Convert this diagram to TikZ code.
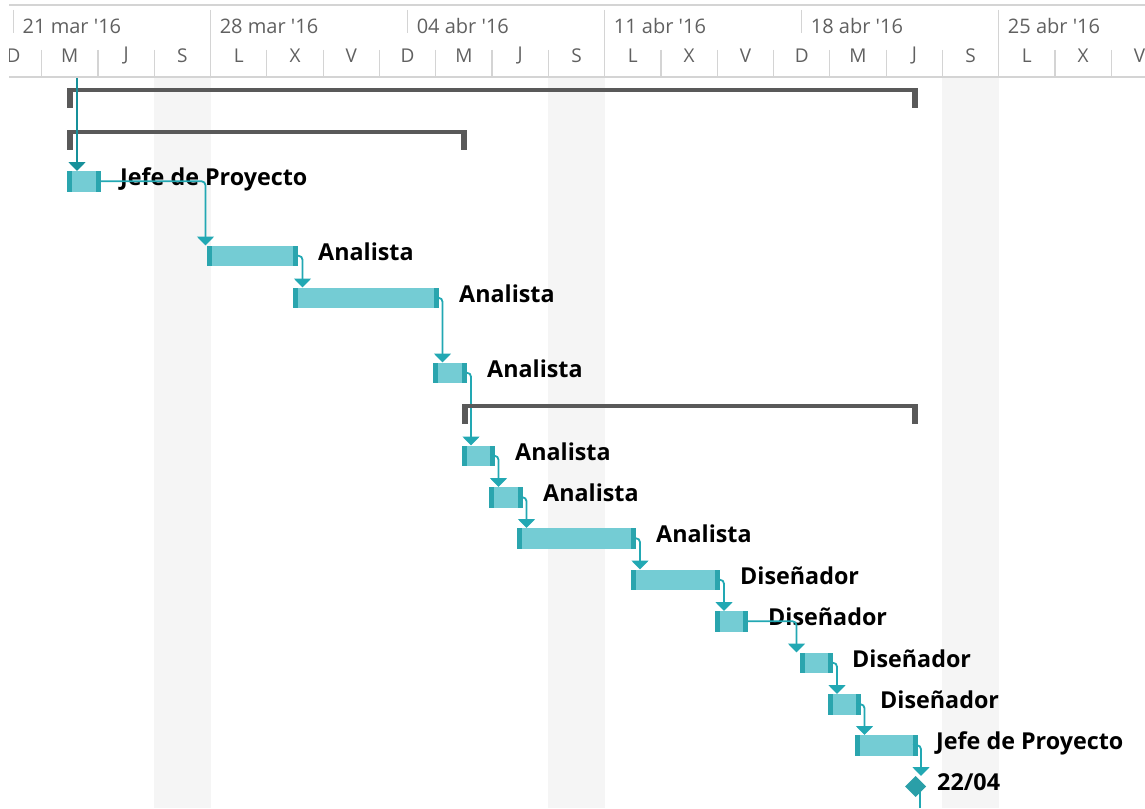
\documentclass[tikz,border=0pt]{standalone}
\usepackage{fontspec}
\setmainfont{Open Sans}
\usetikzlibrary{arrows.meta,shapes.geometric,calc}

\definecolor{barfill}{HTML}{74CCD4}
\definecolor{baredge}{HTML}{2AA5AE}
\definecolor{linkcol}{HTML}{22A8B3}
\definecolor{linkdark}{HTML}{17909A}
\definecolor{milecol}{HTML}{2A9FA8}
\definecolor{summcol}{HTML}{595959}
\definecolor{weekend}{HTML}{F5F5F5}
\definecolor{hdrtext}{HTML}{606060}
\definecolor{hdrline}{HTML}{D4D4D4}

\tikzset{
  taskbar/.style={rectangle, fill=barfill, inner sep=0pt, outer sep=0pt,
    minimum height=20.5pt, anchor=north west,
    path picture={
      \fill[baredge] (path picture bounding box.north west) rectangle
        ([xshift=5pt]path picture bounding box.south west);
      \fill[baredge] ([xshift=-5pt]path picture bounding box.north east) rectangle
        (path picture bounding box.south east);}},
  milestone/.style={diamond, fill=milecol, inner sep=0pt, outer sep=0pt,
    minimum width=21pt, minimum height=21pt},
  tasklabel/.style={anchor=base west, inner sep=0pt, text=black,
    font=\fontsize{23.3}{25}\selectfont\bfseries},
  weeklabel/.style={anchor=west, inner sep=0pt, text=hdrtext,
    font=\fontsize{20}{22}\selectfont},
  daylabel/.style={anchor=center, inner sep=0pt, text=hdrtext,
    font=\fontsize{19}{21}\selectfont},
  link/.style={draw=linkcol, line width=1.8pt, rounded corners=4pt,
    -{Triangle[width=17pt,length=9pt]}},
  linkin/.style={draw=linkdark, line width=1.8pt,
    -{Triangle[width=17pt,length=9pt]}},
  summary/.style={fill=summcol},
  gridline/.style={draw=hdrline, line width=1.2pt},
}

\begin{document}
\begin{tikzpicture}[x=1pt, y=-1pt]
  \useasboundingbox (0,0) rectangle (1145,808);

  % non-working days (Saturday + Sunday), one day = 28.15px, Mon 21 Mar at x=13.5
  \foreach \d in {5,19,33} {
    \fill[weekend] ({13.5+28.15*\d},78) rectangle ({13.5+28.15*(\d+2)},808);
  }

  % timescale header
  \begin{scope}
    \clip (9,0) rectangle (1145,80);
    \draw[gridline] (9,5) -- (1145,5);
    \draw[gridline] (9,77) -- (1145,77);
    % week separators and week labels
    \foreach \w/\txt/\full in {0/21 mar \textquotesingle16/0, 1/28 mar \textquotesingle16/1,
                               2/04 abr \textquotesingle16/0, 3/11 abr \textquotesingle16/1,
                               4/18 abr \textquotesingle16/0, 5/25 abr \textquotesingle16/1} {
      \pgfmathsetmacro{\xs}{13.5+197.05*\w}
      \ifnum\full=1
        \draw[gridline] (\xs,10) -- (\xs,77);
      \else
        \draw[gridline] (\xs,10) -- (\xs,33);
      \fi
      \node[weeklabel] (wk\w) at (\xs+9,26) {\txt};
    }
    % two-day cells of the lower tier
    \foreach \k in {0,...,19} {
      \draw[gridline] ({13.5+28.15*(2*\k+1)},50) -- ({13.5+28.15*(2*\k+1)},77);
    }
    \foreach \k/\dl in {0/D,1/M,2/J,3/S,4/L,5/X,6/V,7/D,8/M,9/J,10/S,
                        11/L,12/X,13/V,14/D,15/M,16/J,17/S,18/L,19/X,20/V} {
      \node[daylabel] (dy\k) at ({13.5+56.3*\k},56) {\dl};
    }
  \end{scope}

  % task bars
  \node[taskbar, minimum width=34pt]  (b1)  at (67,171)   {};
  \node[taskbar, minimum width=91pt]  (b2)  at (207,245.5) {};
  \node[taskbar, minimum width=146pt] (b3)  at (293,287.5) {};
  \node[taskbar, minimum width=34pt]  (b4)  at (433,362.5) {};
  \node[taskbar, minimum width=33pt]  (b5)  at (462,445.5) {};
  \node[taskbar, minimum width=34pt]  (b6)  at (489,487) {};
  \node[taskbar, minimum width=119pt] (b7)  at (517,528) {};
  \node[taskbar, minimum width=89pt]  (b8)  at (631,569.5) {};
  \node[taskbar, minimum width=33pt]  (b9)  at (715,611) {};
  \node[taskbar, minimum width=33pt]  (b10) at (800,652.5) {};
  \node[taskbar, minimum width=33pt]  (b11) at (828,694) {};
  \node[taskbar, minimum width=63pt]  (b12) at (855,735) {};

  % milestone and its outgoing link
  \coordinate (msout) at (920,808);
  \draw[draw=linkcol, line width=1.8pt] (920,790) -- (msout);
  \node[milestone] (ms) at (915.5,786.5) {};

  % resource labels
  \node[tasklabel] (l1)  at ($(b1.east)+(19,4.5)$)  {Jefe de Proyecto};
  \node[tasklabel] (l2)  at ($(b2.east)+(20,4.5)$)  {Analista};
  \node[tasklabel] (l3)  at ($(b3.east)+(20,4.5)$)  {Analista};
  \node[tasklabel] (l4)  at ($(b4.east)+(20,4.5)$)  {Analista};
  \node[tasklabel] (l5)  at ($(b5.east)+(20,4.5)$)  {Analista};
  \node[tasklabel] (l6)  at ($(b6.east)+(20,4.5)$)  {Analista};
  \node[tasklabel] (l7)  at ($(b7.east)+(20,4.5)$)  {Analista};
  \node[tasklabel] (l8)  at ($(b8.east)+(20,4.5)$)  {Diseñador};
  \node[tasklabel] (l9)  at ($(b9.east)+(20,4.5)$)  {Diseñador};
  \node[tasklabel] (l10) at ($(b10.east)+(19,4.5)$) {Diseñador};
  \node[tasklabel] (l11) at ($(b11.east)+(19,4.5)$) {Diseñador};
  \node[tasklabel] (l12) at ($(b12.east)+(18,4.5)$) {Jefe de Proyecto};
  \node[tasklabel] (l13) at ($(ms.east)+(11,4)$)  {22/04};

  % finish-to-start links
  \draw[link] (b1.east)  -| ($(b2.north west)+(-1.5,0)$);
  \draw[link] (b2.east)  -| ($(b3.north west)+(9.5,0)$);
  \draw[link] (b3.east)  -| ($(b4.north west)+(9.5,0)$);
  \draw[link] (b4.east)  -| ($(b5.north west)+(9,0)$);
  \draw[link] (b5.east)  -| ($(b6.north west)+(9.5,0)$);
  \draw[link] (b6.east)  -| ($(b7.north west)+(9.5,0)$);
  \draw[link] (b7.east)  -| ($(b8.north west)+(9,0)$);
  \draw[link] (b8.east)  -| ($(b9.north west)+(9,0)$);
  \draw[link] (b9.east)  -| ($(b10.north west)+(-3.5,0)$);
  \draw[link] (b10.east) -| ($(b11.north west)+(9,0)$);
  \draw[link] (b11.east) -| ($(b12.north west)+(9.5,0)$);
  \draw[link] (b12.east) -| ($(ms.north)+(5.5,0)$);

  % summary bars
  \fill[summary] (67,87.5) rectangle (918,91.5);
  \fill[summary] (67,87.5) rectangle (73,108);
  \fill[summary] (912,87.5) rectangle (918,108);
  \fill[summary] (67,130) rectangle (467,134);
  \fill[summary] (67,130) rectangle (73,150);
  \fill[summary] (461,130) rectangle (467,150);
  \fill[summary] (462,404) rectangle (918,408);
  \fill[summary] (462,404) rectangle (468,424);
  \fill[summary] (912,404) rectangle (918,424);

  % incoming link from above the view
  \coordinate (inlink) at (77,78);
  \draw[linkin] (inlink) -- (inlink |- b1.north);
\end{tikzpicture}
\end{document}
